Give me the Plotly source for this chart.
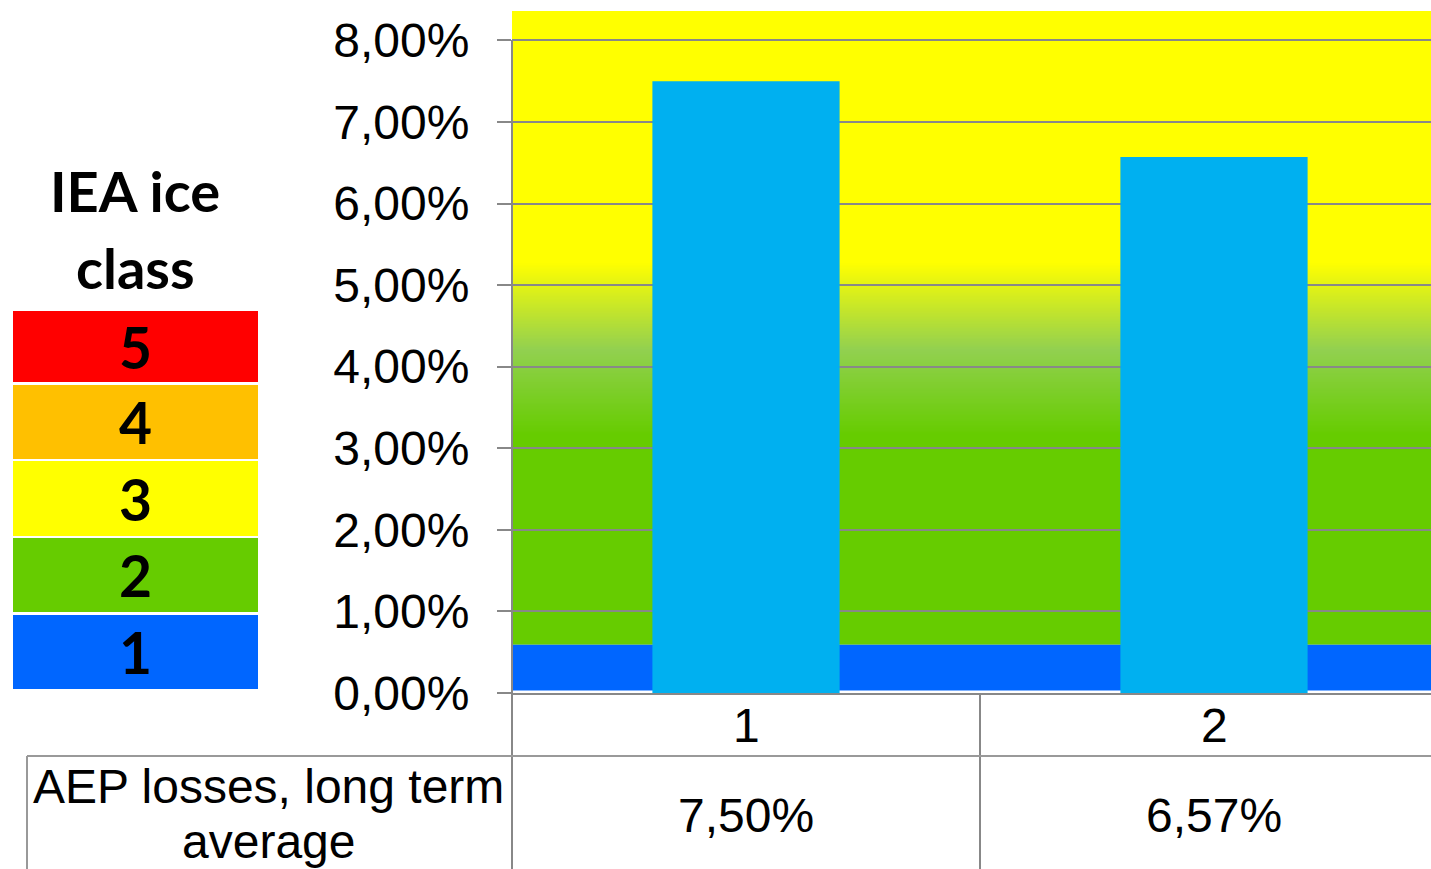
import plotly.graph_objects as go

# ---- data ----
sites = ["1", "2"]
aep_losses = [7.50, 6.57]          # AEP losses, long term average (%)
y_ticks = [0, 1, 2, 3, 4, 5, 6, 7, 8]
y_tick_labels = [("%.2f%%" % v).replace(".", ",") for v in y_ticks]

# background colour zones (values in %)
blue_zone = [0.03, 0.59]
grad_stops = [3.15, 4.2, 5.27]
grad_colors = ["#66CC00", "#92D050", "#FFFF00"]
y_top = 8.36

# IEA ice class legend
ice_classes = [5, 4, 3, 2, 1]
ice_colors = ["#FF0000", "#FFC000", "#FFFF00", "#66CC00", "#0066FF"]

# ---- geometry ----
FIG_W, FIG_H = 1431, 869
M_L, M_R, M_T, M_B = 512, 0, 11, 176
PW = FIG_W - M_L - M_R
PH = FIG_H - M_T - M_B
cat_px = 468
x_range = [-0.5, -0.5 + PW / cat_px]

def px_x(x):  # figure pixel -> paper x
    return (x - M_L) / PW

def px_y(y):  # figure pixel -> paper y
    return (FIG_H - M_B - y) / PH

def data_to_paper_x(v):
    return (v - x_range[0]) / (x_range[1] - x_range[0])

def hex_rgb(h):
    h = h.lstrip("#")
    return [int(h[i:i + 2], 16) for i in (0, 2, 4)]

def lerp_color(c1, c2, t):
    a, b = hex_rgb(c1), hex_rgb(c2)
    return "rgb(%d,%d,%d)" % tuple(round(a[i] + (b[i] - a[i]) * t) for i in range(3))

def pct(v):
    return ("%.2f%%" % v).replace(".", ",")

GRID = "#888888"
FONT = "Arial, Liberation Sans, sans-serif"
BOLD_FONT = "Lato, Carlito, sans-serif"
TXT = 48

shapes = []
bg = dict(type="rect", xref="paper", yref="y", x0=0, x1=1, layer="below", line=dict(width=0))

# solid green from the blue band upward; each gradient strip runs to the top
# so that later strips cover earlier ones without seams
shapes.append({**bg, "y0": blue_zone[1], "y1": y_top, "fillcolor": grad_colors[0]})
n_steps = 70
for k in range(len(grad_stops) - 1):
    lo, hi = grad_stops[k], grad_stops[k + 1]
    for i in range(1, n_steps + 1):
        y0 = lo + (hi - lo) * i / n_steps
        col = lerp_color(grad_colors[k], grad_colors[k + 1], i / n_steps)
        shapes.append({**bg, "y0": y0, "y1": y_top, "fillcolor": col})
shapes.append({**bg, "y0": blue_zone[0], "y1": blue_zone[1], "fillcolor": ice_colors[4]})

# axis / table lines
line_style = dict(color=GRID, width=2)
table_top = px_y(756)
table_bottom = px_y(FIG_H)
shapes += [
    # y axis line continuing down as the table border
    dict(type="line", xref="paper", yref="paper", x0=0, x1=0,
         y0=px_y(40), y1=table_bottom, line=line_style, layer="above"),
    # divider between the two sites
    dict(type="line", xref="paper", yref="paper",
         x0=data_to_paper_x(0.5), x1=data_to_paper_x(0.5),
         y0=0, y1=table_bottom, line=line_style, layer="above"),
    # table header line
    dict(type="line", xref="paper", yref="paper", x0=px_x(27), x1=1,
         y0=table_top, y1=table_top, line=dict(color="#999999", width=2), layer="above"),
    # table left border
    dict(type="line", xref="paper", yref="paper", x0=px_x(27), x1=px_x(27),
         y0=table_top, y1=table_bottom, line=dict(color="#999999", width=2), layer="above"),
]

# legend boxes
box_tops = [311, 385, 461, 538, 615]
box_bots = [382, 459, 536, 612, 689]
annotations = []
for cls, col, t, b in zip(ice_classes, ice_colors, box_tops, box_bots):
    shapes.append(dict(type="rect", xref="paper", yref="paper",
                       x0=px_x(13), x1=px_x(258), y0=px_y(b), y1=px_y(t),
                       fillcolor=col, line=dict(width=0), layer="above"))
    annotations.append(dict(xref="paper", yref="paper", x=px_x(135), y=px_y((t + b) / 2),
                            text="<b>%d</b>" % cls, showarrow=False,
                            font=dict(family=BOLD_FONT, size=57, color="black"),
                            xanchor="center", yanchor="middle"))

for line, yc in (("IEA ice", 190), ("class", 267)):
    annotations.append(dict(xref="paper", yref="paper", x=px_x(135), y=px_y(yc),
                            text="<b>%s</b>" % line, showarrow=False,
                            font=dict(family=BOLD_FONT, size=56, color="black"),
                            xanchor="center", yanchor="middle"))

# category labels under the axis
for i, s in enumerate(sites):
    annotations.append(dict(xref="paper", yref="paper", x=data_to_paper_x(i), y=px_y(725),
                            text=s, showarrow=False,
                            font=dict(family=FONT, size=TXT, color="black"),
                            xanchor="center", yanchor="middle"))

# table row: label and values
for line, yc in (("AEP losses, long term", 787), ("average", 841)):
    annotations.append(dict(xref="paper", yref="paper", x=px_x(268), y=px_y(yc),
                            text=line, showarrow=False,
                            font=dict(family=FONT, size=TXT, color="black"),
                            xanchor="center", yanchor="middle"))
for i, v in enumerate(aep_losses):
    annotations.append(dict(xref="paper", yref="paper", x=data_to_paper_x(i), y=px_y(815),
                            text=pct(v), showarrow=False,
                            font=dict(family=FONT, size=TXT, color="black"),
                            xanchor="center", yanchor="middle"))

fig = go.Figure(go.Bar(
    x=list(range(len(sites))), y=aep_losses, width=0.4,
    marker=dict(color="#00B0F0", line=dict(width=0)),
    hoverinfo="skip",
))

fig.update_layout(
    width=FIG_W, height=FIG_H,
    margin=dict(l=M_L, r=M_R, t=M_T, b=M_B, pad=0),
    paper_bgcolor="white", plot_bgcolor="white",
    showlegend=False,
    shapes=shapes,
    annotations=annotations,
    font=dict(family=FONT, color="black"),
)
fig.update_xaxes(
    range=x_range, showticklabels=False,
    showgrid=False, zeroline=False, showline=True, linecolor=GRID, linewidth=2,
    ticks="",
)
fig.update_yaxes(
    range=[0, y_top], tickmode="array", tickvals=y_ticks, ticktext=y_tick_labels,
    showgrid=True, gridcolor=GRID, gridwidth=2, zeroline=False, showline=False,
    ticks="outside", ticklen=14, tickwidth=2, tickcolor=GRID,
    tickfont=dict(family=FONT, size=TXT, color="black"), ticklabelstandoff=18,
)

fig.write_html("out.html")
